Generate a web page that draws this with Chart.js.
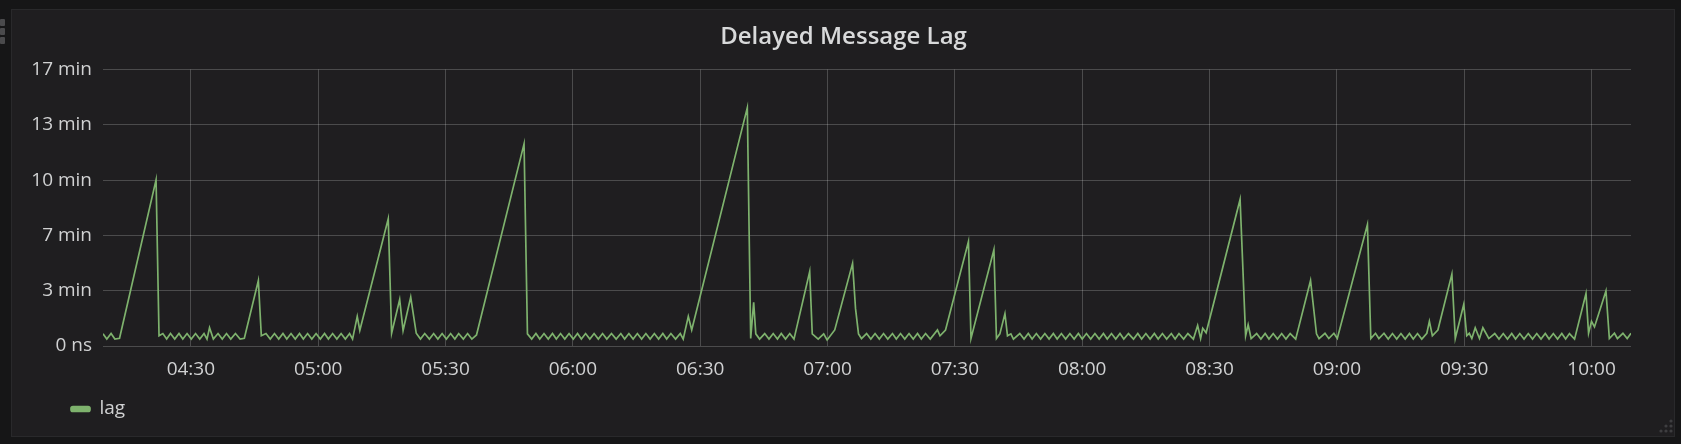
<!DOCTYPE html>
<html>
<head>
<meta charset="utf-8">
<script src="https://cdn.jsdelivr.net/npm/chart.js@4.4.0/dist/chart.umd.min.js"></script>
<style>
  html, body { margin: 0; padding: 0; background: #161617; }
  body { width: 1681px; height: 444px; position: relative; overflow: hidden; font-family: "Open Sans", sans-serif; }
  .panel { position: absolute; left: 11px; top: 9px; width: 1662px; height: 426px; background: #1f1e20; border: 1px solid #29292b; }
  .handle { position: absolute; left: 0; width: 5px; height: 7px; background: #4a4a4c; border-radius: 1px; }
  .chart-box { position: absolute; left: 0; top: 0; width: 1681px; height: 444px; }
  .resize { position: absolute; left: 1655px; top: 417px; }
</style>
</head>
<body>
<div class="panel"></div>
<div class="handle" style="top:19px"></div>
<div class="handle" style="top:28px"></div>
<div class="handle" style="top:37px"></div>
<svg class="resize" width="20" height="20">
  <g fill="#3e3e40">
    <circle cx="16" cy="4" r="1.6"/>
    <circle cx="11" cy="9" r="1.6"/><circle cx="16" cy="9" r="1.6"/>
    <circle cx="6" cy="14" r="1.6"/><circle cx="11" cy="14" r="1.6"/><circle cx="16" cy="14" r="1.6"/>
  </g>
</svg>
<div class="chart-box"><canvas id="lagChart"></canvas></div>

<script>
// minutes after 04:00 and the lag at that moment, in seconds
const lagMinutes = [
  9.3,10.2,11.2,12.1,13.2,21.8,22.5,23.4,24.3,25.2,26.2,27.2,28.1,29.1,30.1,31.1,32.1,33.1,33.8,34.4,35.3,36.4,37.4,38.4,39.4,40.5,41.6,42.6,45.9,46.6,
  47.7,48.7,49.7,50.7,51.7,52.6,53.6,54.6,55.6,56.5,57.5,58.5,59.5,60.5,61.5,62.4,63.4,64.4,65.4,66.4,67.4,68.1,69.2,69.8,76.5,77.3,79.2,80.0,81.8,83.1,
  84.1,85.1,86.2,87.2,88.2,89.2,90.2,91.2,92.2,93.1,94.2,95.2,96.2,97.3,108.5,109.3,110.3,111.3,112.2,113.2,114.2,115.2,116.1,117.1,118.1,119.1,120.1,121.1,122.0,123.0,
  124.0,125.0,126.0,127.0,128.0,129.1,130.2,131.3,132.2,133.2,134.2,135.2,136.2,137.2,138.2,139.2,140.2,141.2,142.1,143.1,144.2,145.3,146.0,147.2,148.0,161.1,161.9,162.6,163.1,164.0,
  165.2,166.2,167.2,168.2,169.1,170.1,171.1,172.1,175.8,176.4,177.8,179.1,179.9,181.7,185.9,186.6,187.3,188.0,189.2,190.2,191.2,192.2,193.2,194.2,195.3,196.2,197.2,198.2,199.2,200.2,
  201.2,202.1,203.1,204.2,205.9,206.5,207.8,213.2,213.8,219.2,219.8,220.6,221.8,222.4,223.2,223.8,225.3,226.3,227.3,228.2,229.2,230.2,231.2,232.2,233.2,234.1,235.1,236.1,237.1,238.1,
  239.1,240.0,241.0,242.0,243.0,244.0,245.0,245.9,246.9,247.9,248.9,249.8,250.9,252.1,253.1,254.0,255.0,256.0,257.0,257.9,258.9,259.9,261.0,261.9,262.8,263.9,264.9,266.2,267.2,267.9,
  268.4,269.2,277.2,278.5,279.1,279.8,281.1,282.1,283.1,284.0,285.0,286.0,287.0,288.0,289.0,290.3,293.8,295.2,295.8,297.2,298.1,299.3,300.1,307.2,308.0,309.1,309.9,311.1,312.1,313.1,
  314.1,315.1,316.1,317.1,318.0,319.0,320.0,321.2,321.8,322.5,323.8,327.1,327.9,329.9,330.6,331.2,331.8,332.6,333.6,334.4,335.8,337.2,338.2,339.2,340.2,341.2,342.1,343.1,344.1,345.1,
  346.1,347.1,348.1,349.1,350.0,351.0,352.0,353.0,353.9,354.8,356.0,358.7,359.3,360.0,360.7,363.4,364.2,365.4,366.1,367.4,368.4,369.3
];
const lagSeconds = [
  44,25,45,25,28,601,37,45,25,45,25,45,25,45,25,45,25,45,25,66,25,45,25,45,25,45,25,28,237,37,
  45,25,45,25,45,25,45,25,45,25,45,25,45,25,45,25,45,25,45,25,45,25,107,56,460,46,168,56,177,46,
  25,45,25,45,25,45,25,45,25,45,25,45,25,40,731,44,25,45,25,45,25,45,25,45,25,45,25,45,25,45,
  25,45,25,45,25,45,25,45,25,45,25,45,25,45,25,45,25,45,25,45,25,45,25,107,58,862,27,158,44,25,
  45,25,45,25,45,25,45,25,269,44,25,44,22,58,299,135,44,27,45,25,45,25,45,25,45,25,45,25,45,25,
  45,25,45,25,58,37,58,378,27,348,27,44,117,37,44,25,45,25,45,25,45,25,45,25,45,25,45,25,45,25,
  45,25,45,25,45,25,45,25,45,25,45,25,45,25,45,25,45,25,45,25,45,25,45,25,45,25,45,25,74,27,
  64,48,530,37,77,27,45,25,45,25,45,25,45,25,45,25,237,44,27,46,27,46,27,439,27,46,27,46,25,45,
  25,45,25,45,25,45,25,46,89,37,58,260,27,151,37,46,27,66,27,66,27,45,25,45,25,45,25,45,25,45,
  25,45,25,45,25,45,25,45,25,45,25,190,46,89,69,199,27,46,27,46,27,46
];

const xTickLabels = ["04:30","05:00","05:30","06:00","06:30","07:00","07:30","08:00","08:30","09:00","09:30","10:00"];
const yTickValues = [0, 200, 400, 600, 800, 1000];
const yTickLabels = ["0 ns", "3 min", "7 min", "10 min", "13 min", "17 min"];

const toMinutes = (label) => {
  const [h, m] = label.split(":").map(Number);
  return (h - 4) * 60 + m;
};

const textColor = "#d0d1d2";
const gridColor = "rgba(255,255,255,0.2)";
const font = { family: "Open Sans", size: 19 };

// y labels need room on the left, but legend and title start further right
const shiftBlocks = {
  id: "shiftBlocks",
  afterLayout(chart) {
    if (chart.legend) chart.legend.left = 56;
    if (chart.titleBlock) chart.titleBlock.left = 56;
  }
};

new Chart(document.getElementById("lagChart"), {
  type: "line",
  data: {
    datasets: [{
      label: "lag",
      data: lagMinutes.map((m, i) => ({ x: m, y: lagSeconds[i] })),
      borderColor: "#7eb26d",
      backgroundColor: "#7eb26d",
      borderWidth: 1.7,
      pointRadius: 0,
      tension: 0,
      fill: false
    }]
  },
  plugins: [shiftBlocks],
  options: {
    responsive: true,
    maintainAspectRatio: false,
    animation: false,
    layout: { padding: { left: 14, right: 50, top: 0, bottom: 15.5 } },
    plugins: {
      title: {
        display: true,
        text: "Delayed Message Lag",
        color: "#d8d9da",
        font: { family: "Open Sans", size: 24, weight: "600" },
        padding: { top: 23, bottom: 17.7 }
      },
      legend: {
        position: "bottom",
        align: "start",
        labels: {
          color: textColor,
          font: font,
          boxWidth: 19,
          boxHeight: 5,
          padding: 15,
          useBorderRadius: true,
          borderRadius: 2
        }
      },
      tooltip: { enabled: false }
    },
    scales: {
      x: {
        type: "linear",
        min: 9.3,
        max: 369.3,
        afterBuildTicks: (axis) => { axis.ticks = xTickLabels.map(l => ({ value: toMinutes(l) })); },
        afterFit: (axis) => { axis.height = 38.5; },
        ticks: {
          callback: (v, i) => xTickLabels[i],
          color: textColor,
          font: font,
          padding: 12,
          maxRotation: 0,
          autoSkip: false
        },
        grid: { color: gridColor, drawTicks: false },
        border: { display: false }
      },
      y: {
        min: 0,
        max: 1000,
        afterBuildTicks: (axis) => { axis.ticks = yTickValues.map(v => ({ value: v })); },
        afterFit: (axis) => { axis.width = 89; },
        ticks: {
          callback: (v, i) => yTickLabels[i],
          color: textColor,
          font: font,
          padding: 11
        },
        grid: { color: gridColor, drawTicks: false },
        border: { display: false }
      }
    }
  }
});
</script>
</body>
</html>
